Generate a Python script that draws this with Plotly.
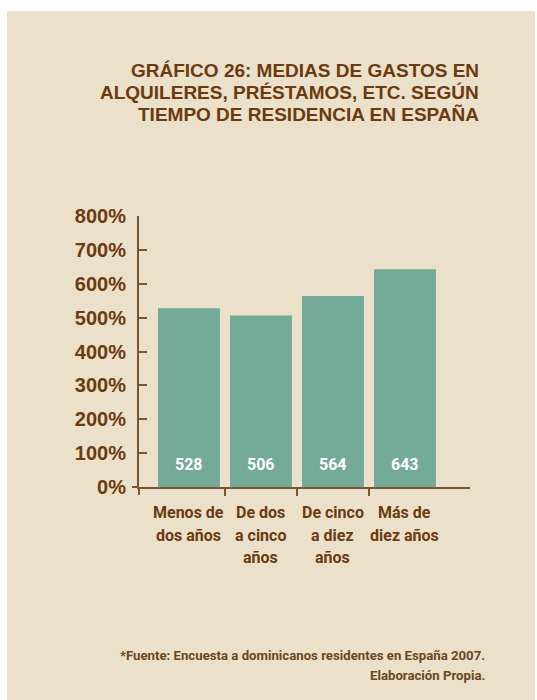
import plotly.graph_objects as go

categories = ["Menos de<br>dos años", "De dos<br>a cinco<br>años", "De cinco<br>a diez<br>años", "Más de<br>diez años"]
values = [528, 506, 564, 643]
y_ticks = [0, 100, 200, 300, 400, 500, 600, 700, 800]
y_tick_labels = [f"{v}%" for v in y_ticks]
title_lines = ["GRÁFICO 26: MEDIAS DE GASTOS EN", "ALQUILERES, PRÉSTAMOS, ETC. SEGÚN", "TIEMPO DE RESIDENCIA EN ESPAÑA"]
footer_lines = ["*Fuente: Encuesta a dominicanos residentes en España 2007.", "Elaboración Propia."]

W, H = 537, 700
L, R, T, B = 139, 470, 216, 487
pw, ph = R - L, B - T

def px(x):
    return (x - L) / pw

def py(y):
    return (B - y) / ph

BG = "#ebe0c9"
BAR = "#73ab98"
BROWN = "#6b3a0e"
AXIS = "#7a5630"
FOOT = "#6b4720"
NARROW = "Roboto, Liberation Sans, sans-serif"
SANS = "Liberation Sans, Arial, Helvetica, sans-serif"

x_idx = list(range(len(categories)))

fig = go.Figure()
fig.add_trace(go.Bar(x=x_idx, y=values, marker=dict(color=BAR, line=dict(width=0)),
                     hoverinfo="skip", showlegend=False))

annotations = []
for i, v in zip(x_idx, values):
    annotations.append(dict(x=i, y=0, xref="x", yref="y", text=str(v), showarrow=False,
                            yanchor="middle", yshift=23,
                            font=dict(family=NARROW, size=16, color="white", weight="bold")))
for i, c in zip(x_idx, categories):
    for k, line in enumerate(c.split("<br>")):
        annotations.append(dict(x=i, y=0, xref="x", yref="y", text=line, showarrow=False,
                                yanchor="middle", yshift=-(25.5 + 22.5 * k),
                                font=dict(family=NARROW, size=16, color=BROWN, weight="bold")))
for k, line in enumerate(title_lines):
    annotations.append(dict(x=px(481), y=py(70 + 22.5 * k), xref="paper", yref="paper", text=line,
                            showarrow=False, xanchor="right", yanchor="middle",
                            font=dict(family=SANS, size=19, color=BROWN, weight="bold")))
for k, line in enumerate(footer_lines):
    annotations.append(dict(x=px(487), y=py(655.5 + 20 * k), xref="paper", yref="paper", text=line,
                            showarrow=False, xanchor="right", yanchor="middle",
                            font=dict(family=NARROW, size=13.2, color=FOOT, weight="bold")))

shapes = [
    dict(type="rect", xref="paper", yref="paper", x0=px(7), x1=px(535), y0=py(700), y1=py(11),
         fillcolor=BG, line=dict(width=0), layer="below"),
    dict(type="line", xref="paper", yref="paper", x0=px(132), x1=px(139), y0=0, y1=0,
         line=dict(color=AXIS, width=2)),
    dict(type="line", xref="paper", yref="paper", x0=0, x1=0, y0=0, y1=py(495),
         line=dict(color=AXIS, width=2)),
]

fig.update_layout(
    width=W, height=H,
    margin=dict(l=L, r=W - R, t=T, b=H - B, autoexpand=False),
    paper_bgcolor="white", plot_bgcolor="rgba(0,0,0,0)",
    bargap=0.14,
    annotations=annotations, shapes=shapes,
    xaxis=dict(range=[-0.694, 3.903], showgrid=False, zeroline=False, showline=True,
               linecolor=AXIS, linewidth=2, tickmode="array", tickvals=[0.5, 1.5, 2.5],
               ticktext=["", "", ""], ticks="outside", ticklen=7, tickwidth=2, tickcolor=AXIS),
    yaxis=dict(range=[0, 800], showgrid=False, zeroline=False, showline=True,
               linecolor=AXIS, linewidth=2, tickmode="array", tickvals=y_ticks,
               ticktext=y_tick_labels, ticks="inside", ticklen=8, tickwidth=2, tickcolor=AXIS,
               ticklabelstandoff=7,
               tickfont=dict(family=SANS, size=20, color=BROWN, weight="bold")),
)

fig.write_html("out.html", config={"displayModeBar": False},
               post_script="document.body.style.margin='0';")
